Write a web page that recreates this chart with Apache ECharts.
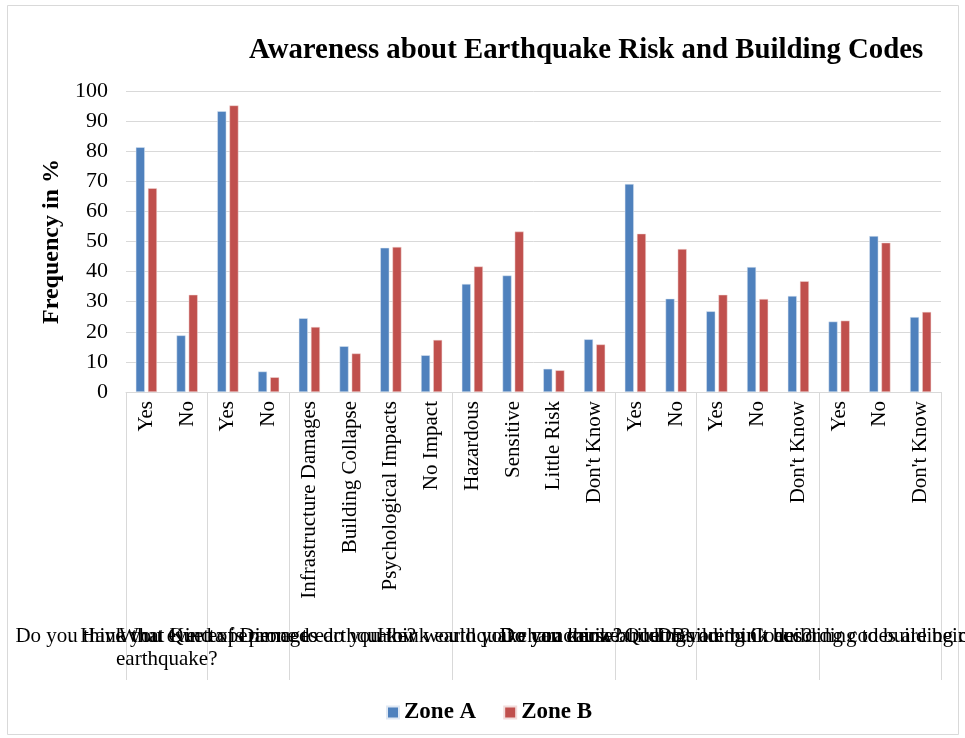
<!DOCTYPE html>
<html>
<head>
<meta charset="utf-8">
<script src="https://cdn.jsdelivr.net/npm/echarts@6/dist/echarts.min.js"></script>
<style>
html,body{margin:0;padding:0;background:#fff;}
#chart{width:965px;height:738px;}
</style>
</head>
<body>
<div id="chart"></div>
<script>
const categories = ["Yes","No","Yes","No","Infrastructure Damages","Building Collapse","Psychological Impacts","No Impact","Hazardous","Sensitive","Little Risk","Don't Know","Yes","No","Yes","No","Don't Know","Yes","No","Don't Know"];
const zoneA = [81.3,18.8,93.3,6.8,24.5,15.2,47.9,12.2,35.9,38.7,7.7,17.5,69.1,31.0,26.8,41.5,31.9,23.4,51.8,24.9];
const zoneB = [67.7,32.3,95.2,4.9,21.6,12.8,48.2,17.3,41.7,53.3,7.2,15.8,52.6,47.5,32.3,30.9,36.8,23.7,49.6,26.6];
const groupNames = [
  "Do you think that Quetta is prone to\nearthquake?",
  "Have you ever experienced earthquake?",
  "What Kind of Damages do you think earthquake can cause?",
  "How would you characterize Quetta?",
  "Do you know about Building Codes?",
  "Do you think buildings are built according to building codes?",
  "Do you think building codes are being implemented?"
];
const groupSizes = [2,2,4,4,2,3,3];
const yTicks = [0,10,20,30,40,50,60,70,80,90,100];

const boundaries = [0];
groupSizes.forEach(s => boundaries.push(boundaries[boundaries.length-1] + s));
const centers = groupSizes.map((s,i) => boundaries[i] + s/2);
const centerName = {};
centers.forEach((c,i) => { centerName[c] = groupNames[i]; });
// empty placeholder labels next to the first/last so that no real label gets auto-hidden
const labelValues = [centers[0], centers[0] + 0.0001].concat(centers.slice(1, -1), [centers[centers.length-1] - 0.0001, centers[centers.length-1]]);

const serif = "'Liberation Serif', 'Times New Roman', serif";
const chart = echarts.init(document.getElementById('chart'));
chart.setOption({
  animation: false,
  backgroundColor: '#fff',
  title: {
    text: 'Awareness about Earthquake Risk and Building Codes',
    left: 244, top: 31,
    textStyle: {fontFamily: serif, fontWeight: 'bold', fontSize: 28.8, color: '#000'}
  },
  legend: {
    data: ['Zone A','Zone B'],
    left: 381, top: 696,
    itemWidth: 12, itemHeight: 12, itemGap: 27,
    icon: 'rect',
    textStyle: {fontFamily: serif, fontWeight: 'bold', fontSize: 23, color: '#000'}
  },
  grid: {left: 126, right: 24, top: 91, bottom: 346, outerBoundsMode: 'none', containLabel: false},
  xAxis: [{
    type: 'category',
    data: categories,
    axisLine: {show: true, lineStyle: {color: '#d9d9d9', width: 1}},
    axisTick: {show: false},
    axisLabel: {rotate: 90, interval: 0, margin: 9, fontFamily: serif, fontSize: 21, color: '#000', hideOverlap: false}
  }, {
    type: 'value',
    min: 0, max: 20,
    position: 'bottom',
    axisLine: {show: false},
    splitLine: {show: false},
    axisTick: {show: true, length: 288, customValues: boundaries, lineStyle: {color: '#d9d9d9', width: 1}},
    axisLabel: {
      show: true, customValues: labelValues, margin: 233, hideOverlap: false,
      showMinLabel: true, showMaxLabel: true,
      fontFamily: serif, fontSize: 21, color: '#000', lineHeight: 23, align: 'center',
      formatter: v => centerName[v] || ''
    }
  }],
  yAxis: {
    type: 'value', min: 0, max: 100, interval: 10,
    name: 'Frequency in %', nameLocation: 'middle', nameGap: 54,
    nameTextStyle: {fontFamily: serif, fontWeight: 'bold', fontSize: 24, color: '#000'},
    axisLine: {show: false}, axisTick: {show: false},
    axisLabel: {fontFamily: serif, fontSize: 22, color: '#000', margin: 18,
      formatter: v => yTicks.includes(v) ? String(v) : ''},
    splitLine: {lineStyle: {color: '#d9d9d9', width: 1}}
  },
  series: [{
    name: 'Zone A', type: 'bar', data: zoneA, xAxisIndex: 0,
    barWidth: 9, barGap: '35%',
    itemStyle: {color: '#4F81BD', borderColor: '#dfe8f3', borderWidth: 0.5}
  }, {
    name: 'Zone B', type: 'bar', data: zoneB, xAxisIndex: 0,
    barWidth: 9, barGap: '35%',
    itemStyle: {color: '#C0504D', borderColor: '#f2dcdb', borderWidth: 0.5}
  }],
  graphic: [{
    type: 'rect', shape: {x: 7.5, y: 5.5, width: 951, height: 729}, silent: true, z: -10,
    style: {fill: 'none', stroke: '#d9d9d9', lineWidth: 1}
  }]
});
</script>
</body>
</html>
